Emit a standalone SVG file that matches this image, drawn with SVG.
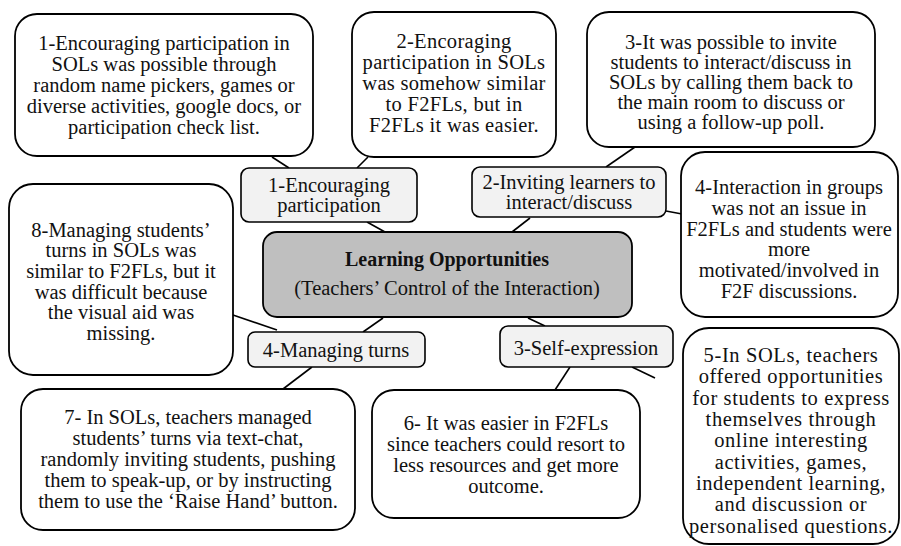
<svg xmlns="http://www.w3.org/2000/svg" width="901" height="546" viewBox="0 0 901 546">
<style>
.box{fill:#fff;stroke:#000;stroke-width:1.8}
.cat{fill:#f2f2f2;stroke:#000;stroke-width:1.6}
.main{fill:#bfbfbf;stroke:#000;stroke-width:1.8}
text{font-family:"Liberation Serif","Times New Roman",serif;font-size:20.5px;fill:#111;text-anchor:middle}
.b{font-weight:bold;font-size:20px}
.big{letter-spacing:0.3px}
.wide{letter-spacing:0.6px}
.c line{stroke:#000;stroke-width:1.6}
</style>
<rect width="901" height="546" fill="#fff"/>
<g class="c" id="connectors">
<line x1="272" y1="157" x2="289" y2="168"/>
<line x1="368" y1="157" x2="357" y2="168"/>
<line x1="367" y1="222" x2="385" y2="232"/>
<line x1="530" y1="218" x2="512" y2="232"/>
<line x1="635" y1="147" x2="606" y2="167"/>
<line x1="666" y1="211" x2="682" y2="214"/>
<line x1="233" y1="315" x2="277" y2="330"/>
<line x1="383" y1="318" x2="363" y2="332"/>
<line x1="312" y1="367" x2="283" y2="389"/>
<line x1="528" y1="318" x2="545" y2="326"/>
<line x1="570" y1="367" x2="555" y2="390"/>
<line x1="632" y1="367" x2="655" y2="378"/>
</g>
<g id="box1">
<rect class="box" x="15" y="14" width="298" height="142" rx="22"/>
<text x="164" y="50">1-Encouraging participation in</text>
<text x="164" y="71">SOLs was possible through</text>
<text x="164" y="92">random name pickers, games or</text>
<text x="164" y="113">diverse activities, google docs, or</text>
<text x="164" y="134">participation check list.</text>
</g>
<g id="box2">
<rect class="box" x="352" y="12" width="204" height="145" rx="22"/>
<text class="big" x="454" y="48">2-Encoraging</text>
<text class="big" x="454" y="69">participation in SOLs</text>
<text class="big" x="454" y="90">was somehow similar</text>
<text class="big" x="454" y="111">to F2FLs, but in</text>
<text class="big" x="454" y="132">F2FLs it was easier.</text>
</g>
<g id="box3">
<rect class="box" x="587" y="12" width="288" height="135" rx="22"/>
<text x="731" y="49">3-It was possible to invite</text>
<text x="731" y="69">students to interact/discuss in</text>
<text x="731" y="89">SOLs by calling them back to</text>
<text x="731" y="109">the main room to discuss or</text>
<text x="731" y="129">using a follow-up poll.</text>
</g>
<g id="box4">
<rect class="box" x="681" y="152" width="217" height="165" rx="24"/>
<text x="789" y="194">4-Interaction in groups</text>
<text x="789" y="215">was not an issue in</text>
<text x="789" y="236">F2FLs and students were</text>
<text x="789" y="256">more</text>
<text x="789" y="277">motivated/involved in</text>
<text x="789" y="298">F2F discussions.</text>
</g>
<g id="box5">
<rect class="box" x="683" y="328" width="216" height="216" rx="26"/>
<text class="wide" x="791" y="362">5-In SOLs, teachers</text>
<text class="wide" x="791" y="383">offered opportunities</text>
<text class="wide" x="791" y="405">for students to express</text>
<text class="wide" x="791" y="426">themselves through</text>
<text class="wide" x="791" y="447">online interesting</text>
<text class="wide" x="791" y="469">activities, games,</text>
<text class="wide" x="791" y="490">independent learning,</text>
<text class="wide" x="791" y="511">and discussion or</text>
<text class="wide" x="791" y="533">personalised questions.</text>
</g>
<g id="box6">
<rect class="box" x="372" y="390" width="268" height="128" rx="22"/>
<text x="506" y="430">6- It was easier in F2FLs</text>
<text x="506" y="451">since teachers could resort to</text>
<text x="506" y="472">less resources and get more</text>
<text x="506" y="493">outcome.</text>
</g>
<g id="box7">
<rect class="box" x="21" y="389" width="334" height="141" rx="22"/>
<text x="188" y="424">7- In SOLs, teachers managed</text>
<text x="188" y="445">students’ turns via text-chat,</text>
<text x="188" y="466">randomly inviting students, pushing</text>
<text x="188" y="487">them to speak-up, or by instructing</text>
<text x="188" y="508">them to use the ‘Raise Hand’ button.</text>
</g>
<g id="box8">
<rect class="box" x="9" y="184" width="224" height="191" rx="24"/>
<text x="121" y="237">8-Managing students’</text>
<text x="121" y="257">turns in SOLs was</text>
<text x="121" y="278">similar to F2FLs, but it</text>
<text x="121" y="299">was difficult because</text>
<text x="121" y="319">the visual aid was</text>
<text x="121" y="340">missing.</text>
</g>
<g id="cat1">
<rect class="cat" x="241" y="168" width="176" height="54" rx="8"/>
<text x="329" y="192">1-Encouraging</text>
<text x="329" y="212">participation</text>
</g>
<g id="cat2">
<rect class="cat" x="472" y="167" width="194" height="50" rx="8"/>
<text x="569" y="189">2-Inviting learners to</text>
<text x="569" y="209">interact/discuss</text>
</g>
<g id="cat3">
<rect class="cat" x="500" y="326" width="173" height="41" rx="8"/>
<text x="586" y="355">3-Self-expression</text>
</g>
<g id="cat4">
<rect class="cat" x="248" y="332" width="177" height="35" rx="7"/>
<text x="336" y="357">4-Managing turns</text>
</g>
<g id="central">
<rect class="main" x="263" y="232" width="369" height="85" rx="14"/>
<text class="b" x="447" y="266">Learning Opportunities</text>
<text x="447" y="295">(Teachers’ Control of the Interaction)</text>
</g>
</svg>
